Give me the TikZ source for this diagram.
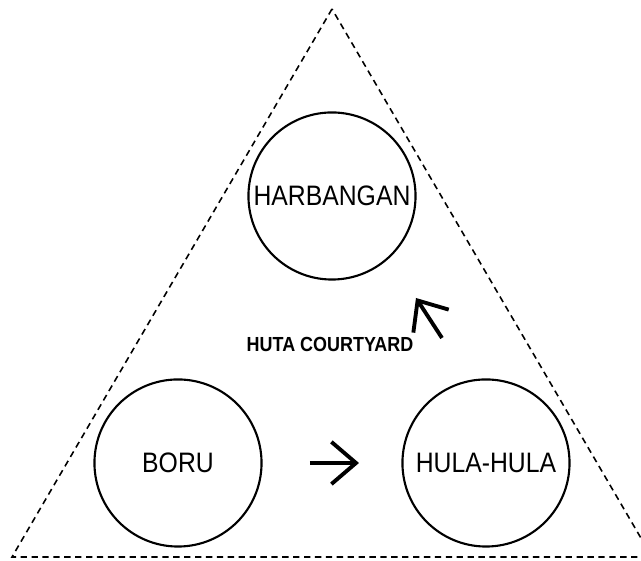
\documentclass[tikz,border=0pt]{standalone}
\usepackage{fontspec}
\setmainfont{Liberation Sans}
\newfontfamily\narrowfont[FakeStretch=0.88]{Liberation Sans}
\usetikzlibrary{arrows.meta}

\begin{document}
\begin{tikzpicture}[x=0.01cm,y=-0.01cm,
	group/.style={draw,circle,line width=0.6pt,minimum size=1.67cm,inner sep=0pt,font=\narrowfont\fontsize{8}{9}\selectfont},
	flow/.style={line width=1.1pt,-{Straight Barb[length=7pt,width=12pt]}}]

	\useasboundingbox (0,0) rectangle (641,561);

	\draw [dashed,line width=0.45pt,dash pattern=on 1.8pt off 1.3pt] (332,9) -- (12,557) -- (652,557) -- cycle;

	\node[group] (harbangan) at (332,196) {HARBANGAN};
	\node[group] (boru) at (178,463) {BORU};
	\node[group] (hulahula) at (486,463) {HULA-HULA};

	\node[font=\narrowfont\bfseries\fontsize{5.8}{6}\selectfont] (huta) at (330,344) {HUTA COURTYARD};

	\coordinate (b_0) at (310,463);
	\coordinate (b_1) at (359,463);
	\coordinate (h_0) at (442,338);
	\coordinate (h_1) at (416,298);

	\draw [flow] (b_0) -- (b_1);
	\draw [flow] (h_0) -- (h_1);

\end{tikzpicture}
\end{document}
